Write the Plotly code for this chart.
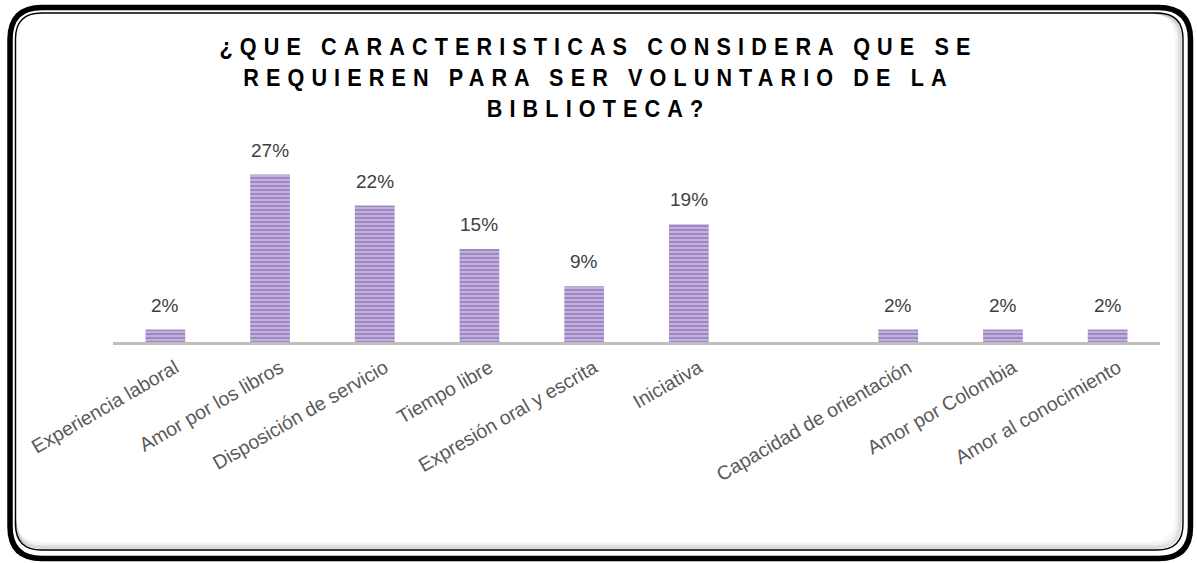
import plotly.graph_objects as go

# Survey answers: share of respondents per characteristic
categories = [
    "Experiencia laboral",
    "Amor por los libros",
    "Disposición de servicio",
    "Tiempo libre",
    "Expresión oral y escrita",
    "Iniciativa",
    " ",
    "Capacidad de orientación",
    "Amor por Colombia",
    "Amor al conocimiento",
]
percentages = [2, 27, 22, 15, 9, 19, None, 2, 2, 2]

title_lines = [
    "¿QUE CARACTERISTICAS CONSIDERA QUE SE",
    "REQUIEREN PARA SER VOLUNTARIO DE LA",
    "BIBLIOTECA?",
]

# Canvas geometry
W, H = 1197, 563
L, R, T, B = 113, 37, 156, 221
PW, PH = W - L - R, H - T - B

FONT = "Arial, Liberation Sans, sans-serif"


def to_paper(px, py):
    return (px - L) / PW, (H - B - py) / PH


def path_from(segments, close=True):
    parts = []
    for cmd, coords in segments:
        c = " ".join("{:.5f},{:.5f}".format(*to_paper(x, y)) for x, y in coords)
        parts.append(cmd + c)
    return " ".join(parts) + (" Z" if close else "")


def rounded_rect_path(x0, y0, x1, y1, r):
    return path_from([
        ("M", [(x0 + r, y0)]),
        ("L", [(x1 - r, y0)]),
        ("Q", [(x1, y0), (x1, y0 + r)]),
        ("L", [(x1, y1 - r)]),
        ("Q", [(x1, y1), (x1 - r, y1)]),
        ("L", [(x0 + r, y1)]),
        ("Q", [(x0, y1), (x0, y1 - r)]),
        ("L", [(x0, y0 + r)]),
        ("Q", [(x0, y0), (x0 + r, y0)]),
    ])


def lower_right_edge_path(x0, y0, x1, y1, r):
    # bottom edge plus right edge of a rounded rectangle, left open
    return path_from([
        ("M", [(x0, y1 - r)]),
        ("Q", [(x0, y1), (x0 + r, y1)]),
        ("L", [(x1 - r, y1)]),
        ("Q", [(x1, y1), (x1, y1 - r)]),
        ("L", [(x1, y0 + r)]),
        ("Q", [(x1, y0), (x1 - r, y0)]),
    ], close=False)


fig = go.Figure()

fig.add_trace(go.Bar(
    x=categories,
    y=percentages,
    width=0.38,
    marker=dict(
        color="#b9a5d6",
        line=dict(width=0),
        pattern=dict(shape="-", fgcolor="#7d5fab", bgcolor="#c2b0dc",
                     size=4, solidity=0.5, fillmode="overlay"),
    ),
    hoverinfo="skip",
))

annotations = []
for cat, val in zip(categories, percentages):
    if val is None:
        continue
    annotations.append(dict(
        x=cat, y=val, xref="x", yref="y",
        text=f"{val}%", showarrow=False,
        yanchor="bottom", yshift=12,
        font=dict(family=FONT, size=19, color="#404040"),
    ))

shapes = []
# soft shadow inside the lower and right edges
for off, alpha in [(7, 0.03), (5, 0.05), (3.5, 0.08), (2, 0.12)]:
    shapes.append(dict(
        type="path", xref="paper", yref="paper",
        path=lower_right_edge_path(15.5, 13, 1183 - off, 550 - off, 26),
        line=dict(color=f"rgba(0,0,0,{alpha})", width=2.5),
        fillcolor="rgba(0,0,0,0)", layer="above"))
shapes += [
    # outer frame
    dict(type="path", xref="paper", yref="paper",
         path=rounded_rect_path(10, 7.5, 1190.5, 558.5, 32),
         line=dict(color="black", width=5.5), fillcolor="rgba(0,0,0,0)",
         layer="above"),
    # inner frame line
    dict(type="path", xref="paper", yref="paper",
         path=rounded_rect_path(15.5, 13, 1183, 550, 26),
         line=dict(color="black", width=1.4), fillcolor="rgba(0,0,0,0)",
         layer="above"),
]

fig.update_layout(
    width=W, height=H,
    margin=dict(l=L, r=R, t=T, b=B),
    paper_bgcolor="white",
    plot_bgcolor="white",
    showlegend=False,
    title=dict(
        text="<br>".join(title_lines),
        x=0.5, xref="container", xanchor="center",
        y=1 - 55 / H, yref="container", yanchor="top",
        font=dict(family=FONT, size=24, color="black", weight="bold"),
    ),
    xaxis=dict(
        type="category",
        categoryorder="array", categoryarray=categories,
        tickangle=-30,
        tickfont=dict(family=FONT, size=19.5, color="#595959"),
        ticklabelshift=10,
        ticklabelstandoff=4,
        showline=True, linecolor="#bfbfbf", linewidth=3,
        ticks="", showgrid=False, zeroline=False, fixedrange=True,
    ),
    yaxis=dict(
        range=[0, 30], visible=False, showgrid=False, zeroline=False,
        fixedrange=True,
    ),
    annotations=annotations,
    shapes=shapes,
)

# Condensed, widely tracked title lettering
post = """
var gd = document.getElementById('{plot_id}');
function styleTitle() {
  gd.querySelectorAll('.gtitle').forEach(function (t) {
    t.style.letterSpacing = '7.9px';
    var cx = parseFloat(t.getAttribute('x')) || 0;
    t.setAttribute('transform',
      'translate(' + cx + ',0) scale(0.9,1) translate(' + (-cx) + ',0)');
  });
}
styleTitle();
gd.on('plotly_afterplot', styleTitle);
"""

fig.write_html("out.html", post_script=post, config={"displayModeBar": False})
